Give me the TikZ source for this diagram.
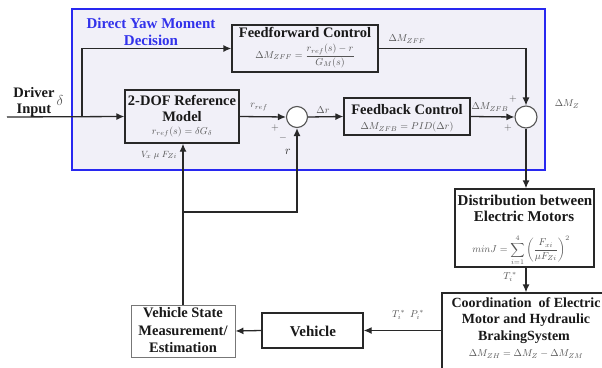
\documentclass[tikz,border=0pt]{standalone}
\usepackage{fontspec}
\setmainfont{Liberation Serif}
\usetikzlibrary{arrows.meta}
\definecolor{lav}{RGB}{241,240,248}
\definecolor{bluebd}{RGB}{40,40,240}
\definecolor{bluetx}{RGB}{50,50,235}
\definecolor{ln}{RGB}{40,40,40}
\definecolor{fg}{RGB}{85,85,85}
\begin{document}
\begin{tikzpicture}[x=1pt,y=-1pt,
  box/.style={draw=ln, line width=1.3pt, inner sep=0pt, minimum width=#1},
  box/.default=10,
  sumc/.style={circle, draw=fg, fill=white, line width=1.1pt, minimum size=21pt, inner sep=0pt},
  arr/.style={-{Latex[length=8pt,width=7pt]}, line width=1.3pt, draw=ln},
  bt/.style={font=\bfseries\fontsize{14.5}{16}\selectfont, inner sep=0pt, text=black!90},
  btl/.style={font=\bfseries\fontsize{15}{17}\selectfont, inner sep=0pt, text=black!90},
  bts/.style={font=\bfseries\fontsize{14}{16}\selectfont, inner sep=0pt, text=black!90},
  ttl/.style={font=\bfseries\fontsize{15}{17}\selectfont, inner sep=0pt, text=bluetx},
  fm/.style={font=\fontsize{10}{12}\selectfont, inner sep=0pt, text=fg},
  lb/.style={font=\fontsize{10}{12}\selectfont, inner sep=0pt, text=fg}
]
\useasboundingbox (0,0) rectangle (602,367);
\clip (0,0) rectangle (602,367);
% region
\node[draw=bluebd, fill=lav, line width=1.3pt, minimum width=473pt, minimum height=161pt, inner sep=0pt] (dym) at (308.5,89.5) {};
\node[ttl] (t1) at (151,23) {Direct Yaw Moment};
\node[ttl] (t2) at (151,40) {Decision};
% boxes
\node[box=146pt, minimum height=47pt] (ff) at (305,48.5) {};
\node[box=126pt, minimum height=37pt] (fb) at (407,116.5) {};
\node[box=114pt, minimum height=53pt] (dof) at (182,116.5) {};
\node[box=139pt, minimum height=78pt, fill=white] (dist) at (524.5,228) {};
\node[box=168pt, minimum height=92pt, fill=white] (coord) at (526,339) {};
\node[box=101pt, minimum height=35pt, fill=white] (veh) at (312.5,330.5) {};
\node[draw=fg!80, line width=0.9pt, fill=white, minimum width=104pt, minimum height=52pt, inner sep=0pt] (vsm) at (183,331) {};
\node[sumc] (s1) at (297,117) {};
\node[sumc, minimum size=22pt] (s2) at (526,117) {};
% texts in boxes
\node[bt] (fft) at (305,32) {Feedforward Control};
\node[fm] (fff) at (305,56) {$\Delta M_{ZFF}=\displaystyle\frac{r_{ref}(s)-r}{G_M(s)}$};
\node[bt] (fbt) at (407,110) {Feedback Control};
\node[fm] (fbf) at (407,127) {$\Delta M_{ZFB}=PID(\Delta r)$};
\node[bt] (doft1) at (182,100) {2-DOF Reference};
\node[bt] (doft2) at (182,117) {Model};
\node[fm] (doff) at (182,132) {$r_{ref}(s)=\delta G_{\delta}$};
\node[btl] (distt1) at (525,200) {Distribution between};
\node[btl] (distt2) at (524,216) {Electric Motors};
\node[fm] (distf) at (521,250) {$minJ=\displaystyle\sum_{i=1}^{4}\left(\frac{F_{xi}}{\mu F_{Zi}}\right)^{2}$};
\node[bts] (ct1) at (526,303) {Coordination\ \ of Electric};
\node[bts] (ct2) at (526,320) {Motor and Hydraulic};
\node[bts] (ct3) at (524,337) {BrakingSystem};
\node[fm] (cf) at (526,354) {$\Delta M_{ZH}=\Delta M_{Z}-\Delta M_{ZM}$};
\node[btl] (vt) at (313,331) {Vehicle};
\node[bt] (vs1) at (183,313) {Vehicle State};
\node[bt] (vs2) at (183,331) {Measurement/};
\node[bt] (vs3) at (183,348) {Estimation};
\node[bt] (drv) at (34,93) {Driver};
\node[bt] (inp) at (34,110) {Input};
\node[inner sep=0pt, font=\fontsize{15}{15}\selectfont, text=fg] (dl) at (60,100) {$\delta$};
% connectors
\coordinate (in) at (7,117);
\coordinate (br) at (82,117);
\coordinate (fbk) at (183,212);
\draw[arr] (in) -- (dof.west);
\draw[arr] (br) |- (ff.west);
\draw[arr] (dof.east) -- (s1.west);
\draw[arr] (s1.east) -- (fb.west);
\draw[arr] (fb.east) -- (s2.west);
\draw[arr] (ff.east) -| (s2.north);
\draw[arr] (s2.south) -- (s2.south |- dist.north);
\draw[arr] (dist.south -| s2.south) -- (s2.south |- coord.north);
\draw[arr] (veh.east -| coord.west) -- (veh.east);
\draw[arr] (veh.west) -- (vsm.east);
\draw[arr] (vsm.north) -- (vsm.north |- dof.south);
\draw[arr] (fbk) -| (s1.south);
% labels
\node[lb] (lzff) at (407,39) {$\Delta M_{ZFF}$};
\node[lb] (lzfb) at (490,107) {$\Delta M_{ZFB}$};
\node[lb] (lp1) at (513,99) {$+$};
\node[lb] (lp2) at (508,128) {$+$};
\node[lb] (lmz) at (567,104) {$\Delta M_{Z}$};
\node[lb, font=\fontsize{9.5}{11}\selectfont] (lvx) at (159,155) {$V_x\ \mu\ F_{Zi}$};
\node[lb] (lrr) at (259,107) {$r_{ref}$};
\node[lb] (lp3) at (275,128) {$+$};
\node[lb] (lm3) at (283,138) {$-$};
\node[inner sep=0pt, font=\fontsize{13}{13}\selectfont, text=black!85] (lr) at (288,152) {$r$};
\node[lb] (ldr) at (323,110) {$\Delta r$};
\node[lb] (lti) at (510,277) {$T_i^{\,*}$};
\node[lb] (ltp) at (408,315) {$T_i^{\,*}\ \ P_i^{\,*}$};
\end{tikzpicture}
\end{document}
